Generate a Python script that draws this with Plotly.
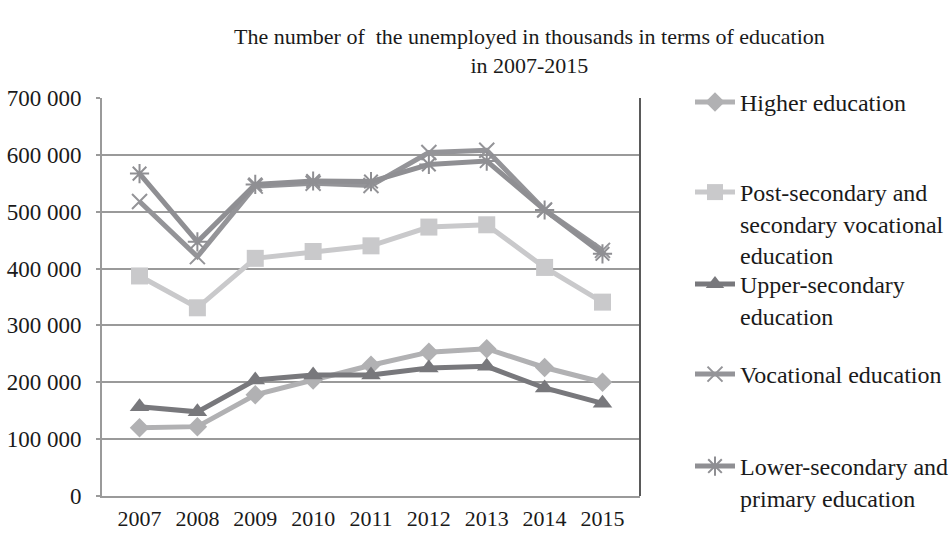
import plotly.graph_objects as go

years = ["2007", "2008", "2009", "2010", "2011", "2012", "2013", "2014", "2015"]

higher = [120000, 122000, 178000, 204000, 230000, 253000, 259000, 226000, 200000]
post_secondary = [387000, 331000, 418000, 430000, 440000, 473000, 477000, 402000, 341000]
upper_secondary = [157000, 148000, 204000, 213000, 213000, 225000, 228000, 190000, 163000]
vocational = [518000, 421000, 545000, 550000, 546000, 604000, 608000, 503000, 432000]
lower_primary = [567000, 447000, 548000, 554000, 553000, 583000, 589000, 503000, 426000]

series_names = [
    "Higher education",
    "Post-secondary and<br>secondary vocational<br>education",
    "Upper-secondary<br>education",
    "Vocational education",
    "Lower-secondary and<br>primary education",
]

FONT = "Liberation Serif, Times New Roman, serif"
TEXT = "#1a1a1a"

styles = [
    dict(color="#b1b1b3", symbol="diamond", size=15, line_marker=False),
    dict(color="#c9c9cb", symbol="square", size=17, line_marker=False),
    dict(color="#78787c", symbol="triangle-up", size=17, line_marker=False),
    dict(color="#949498", symbol="x-thin", size=15, line_marker=True),
    dict(color="#8f8f93", symbol="asterisk", size=16, line_marker=True),
]

W, H = 949, 534
PLOT_L, PLOT_R, PLOT_T, PLOT_B = 102, 640, 98, 496
legend_y = [103, 193, 285, 375, 467]

fig = go.Figure()
all_series = [higher, post_secondary, upper_secondary, vocational, lower_primary]
for i, (name, vals, st) in enumerate(zip(series_names, all_series, styles)):
    marker = dict(symbol=st["symbol"], size=st["size"], color=st["color"])
    if st["line_marker"]:
        marker["line"] = dict(color=st["color"], width=2)
    else:
        marker["line"] = dict(width=0)
    fig.add_trace(go.Scatter(
        x=years, y=vals, name=name, mode="lines+markers",
        line=dict(color=st["color"], width=5),
        marker=marker,
        legend="legend" if i == 0 else f"legend{i+1}",
    ))

legend_common = dict(
    font=dict(family=FONT, size=24, color=TEXT),
    bgcolor="rgba(0,0,0,0)",
    xanchor="left", yanchor="top",
    itemwidth=40,
    valign="top",
    tracegroupgap=0,
    xref="container", yref="container",
)
layout_legends = {}
for i, ly in enumerate(legend_y):
    key = "legend" if i == 0 else f"legend{i+1}"
    layout_legends[key] = dict(legend_common, x=690 / W, y=1 - (ly - 23) / H)


def px_to_paper_x(px):
    return (px - PLOT_L) / (PLOT_R - PLOT_L)


def px_to_paper_y(py):
    return (PLOT_B - py) / (PLOT_B - PLOT_T)


title_font = dict(family=FONT, size=22, color=TEXT)

fig.update_layout(
    width=W, height=H,
    margin=dict(l=PLOT_L, r=W - PLOT_R, t=PLOT_T, b=H - PLOT_B),
    paper_bgcolor="white", plot_bgcolor="white",
    separators=". ",
    showlegend=True,
    font=dict(family=FONT, size=23, color=TEXT),
    annotations=[
        dict(text="The number of  the unemployed in thousands in terms of education<br>in 2007-2015",
             x=px_to_paper_x(529), y=px_to_paper_y(51), xref="paper", yref="paper",
             showarrow=False, font=title_font, xanchor="center", yanchor="middle",
             align="center"),
    ],
    xaxis=dict(
        type="category", showgrid=False, showline=True, linecolor="#9a9a9a",
        linewidth=2, ticks="", tickfont=dict(family=FONT, size=22, color=TEXT),
        mirror=False, zeroline=False, ticklabelstandoff=2, automargin=False,
    ),
    yaxis=dict(
        range=[0, 700000], dtick=100000, tickformat=",d",
        showgrid=True, gridcolor="#9a9a9a", gridwidth=2,
        showline=True, linecolor="#9a9a9a", linewidth=2,
        ticks="outside", ticklen=4, tickcolor="#9a9a9a", tickwidth=2,
        tickfont=dict(family=FONT, size=23, color=TEXT),
        zeroline=False, ticklabelstandoff=10, automargin=False,
    ),
    **layout_legends,
)

# frame edge on the right of the plotting area
fig.add_shape(type="line", xref="paper", yref="paper", x0=1, x1=1, y0=0, y1=1,
              line=dict(color="#5a5a5a", width=2))

fig.write_html("out.html")
